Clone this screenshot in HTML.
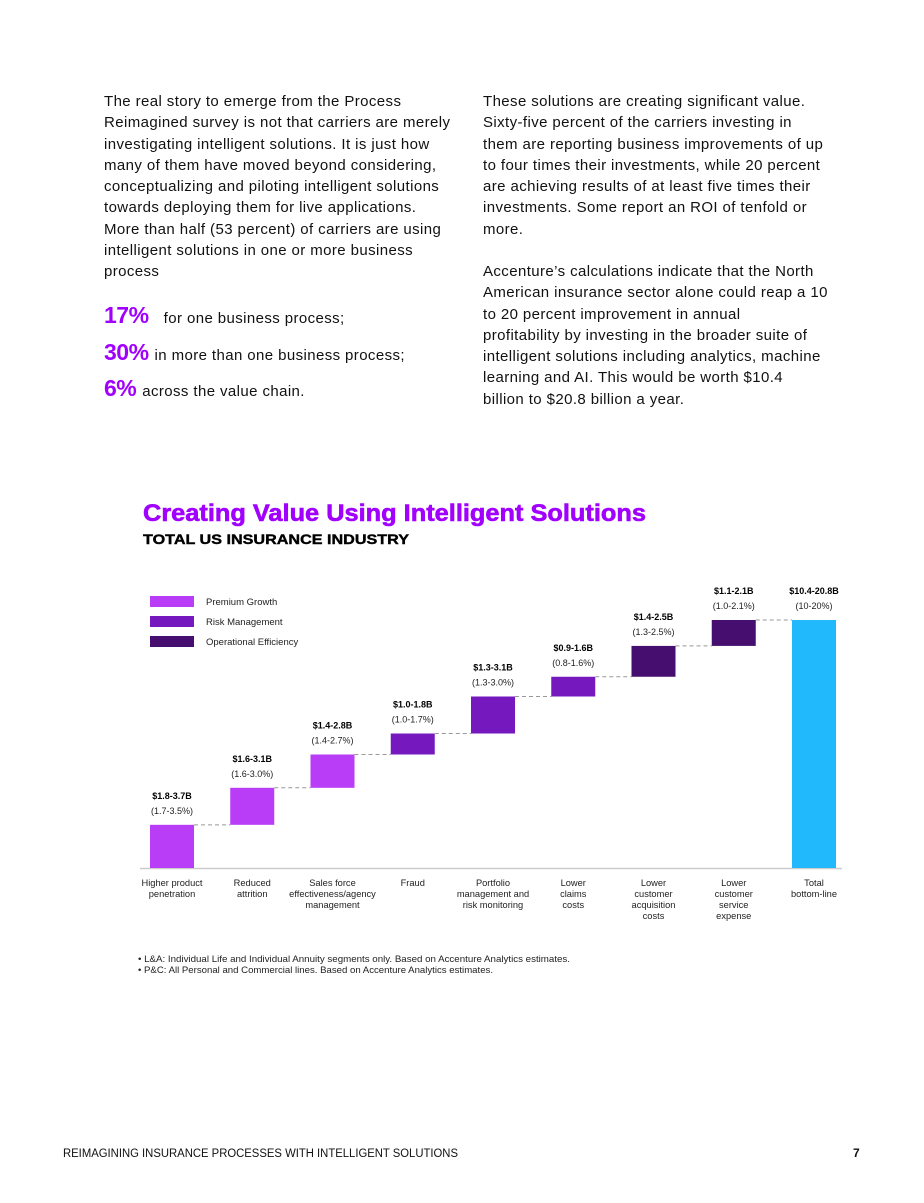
<!DOCTYPE html>
<html><head><meta charset="utf-8"><style>
body{margin:0;background:#fff;font-family:"Liberation Sans",sans-serif;color:#111;}
#page{position:relative;width:924px;height:1203px;overflow:hidden;}
.col{position:absolute;font-size:15px;letter-spacing:0.4px;line-height:21.3px;white-space:nowrap;}
.big{position:absolute;font-size:15px;letter-spacing:0.4px;white-space:nowrap;}
.big b{color:#a100ff;font-size:23px;font-weight:900;letter-spacing:-0.5px;margin-right:6px;}
</style></head><body><div id="page">
<div class="col" style="left:104px;top:91px">The real story to emerge from the Process<br>Reimagined survey is not that carriers are merely<br>investigating intelligent solutions. It is just how<br>many of them have moved beyond considering,<br>conceptualizing and piloting intelligent solutions<br>towards deploying them for live applications.<br>More than half (53 percent) of carriers are using<br>intelligent solutions in one or more business<br>process</div>
<div class="big" style="left:104px;top:302px"><b>17%</b> &nbsp;for one business process;</div>
<div class="big" style="left:104px;top:339px"><b>30%</b>in more than one business process;</div>
<div class="big" style="left:104px;top:375px"><b>6%</b>across the value chain.</div>
<div class="col" style="left:483px;top:91px">These solutions are creating significant value.<br>Sixty-five percent of the carriers investing in<br>them are reporting business improvements of up<br>to four times their investments, while 20 percent<br>are achieving results of at least five times their<br>investments. Some report an ROI of tenfold or<br>more.</div>
<div class="col" style="left:483px;top:261px">Accenture’s calculations indicate that the North<br>American insurance sector alone could reap a 10<br>to 20 percent improvement in annual<br>profitability by investing in the broader suite of<br>intelligent solutions including analytics, machine<br>learning and AI. This would be worth $10.4<br>billion to $20.8 billion a year.</div>

<svg id="chart" width="924" height="1203" style="position:absolute;left:0;top:0">
<text x="143" y="521" font-size="24" font-weight="900" fill="#a100ff" stroke="#a100ff" stroke-width="0.6" textLength="503" lengthAdjust="spacingAndGlyphs">Creating Value Using Intelligent Solutions</text>
<text x="143" y="544" font-size="14" font-weight="900" fill="#000" stroke="#000" stroke-width="0.4" textLength="266" lengthAdjust="spacingAndGlyphs">TOTAL US INSURANCE INDUSTRY</text>
<g id="legend"></g>
<line x1="140" y1="868.5" x2="842" y2="868.5" stroke="#ccc" stroke-width="1.5"/>
<g id="marks"></g>
<text x="138" y="962" font-size="9.4" fill="#222" textLength="432" lengthAdjust="spacingAndGlyphs">• L&amp;A: Individual Life and Individual Annuity segments only. Based on Accenture Analytics estimates.</text>
<text x="138" y="973" font-size="9.4" fill="#222" textLength="355" lengthAdjust="spacingAndGlyphs">• P&amp;C: All Personal and Commercial lines. Based on Accenture Analytics estimates.</text>
<text x="63" y="1157" font-size="11.5" fill="#111" textLength="395" lengthAdjust="spacingAndGlyphs">REIMAGINING INSURANCE PROCESSES WITH INTELLIGENT SOLUTIONS</text>
<text x="853" y="1157" font-size="12" font-weight="bold" fill="#111">7</text>
</svg>
<script>
const categories=[["Higher product","penetration"],["Reduced","attrition"],["Sales force","effectiveness/agency","management"],["Fraud"],["Portfolio","management and","risk monitoring"],["Lower","claims","costs"],["Lower","customer","acquisition","costs"],["Lower","customer","service","expense"],["Total","bottom-line"]];
const pctHigh=[3.5,3.0,2.7,1.7,3.0,1.6,2.5,2.1];
const groups=[0,0,0,1,1,1,2,2];
const dollarLabels=["$1.8-3.7B","$1.6-3.1B","$1.4-2.8B","$1.0-1.8B","$1.3-3.1B","$0.9-1.6B","$1.4-2.5B","$1.1-2.1B","$10.4-20.8B"];
const pctLabels=["(1.7-3.5%)","(1.6-3.0%)","(1.4-2.7%)","(1.0-1.7%)","(1.3-3.0%)","(0.8-1.6%)","(1.3-2.5%)","(1.0-2.1%)","(10-20%)"];
const legendNames=["Premium Growth","Risk Management","Operational Efficiency"];
const colors=["#b93cf6","#7519bf","#460e6e"];
const totalColor="#22b8fc";
const NS="http://www.w3.org/2000/svg";
const base=868,scale=248/20.1,x0=150,pitch=80.25,bw=44;
const y=v=>base-v*scale;
const xb=i=>x0+i*pitch;
function mk(tag,at,parent){const e=document.createElementNS(NS,tag);for(const k in at)e.setAttribute(k,at[k]);parent.appendChild(e);return e;}
const marks=document.getElementById('marks'),leg=document.getElementById('legend');
legendNames.forEach((n,i)=>{
 const r=mk('rect',{x:150,y:596+i*20,width:44,height:11,fill:colors[i]},leg);
 
 
 const t=mk('text',{x:206,y:605+i*20,'font-size':9.5,fill:'#222'},leg);t.textContent=n;
 
 
});
let cum=0;
const n=pctHigh.length;
for(let i=0;i<=n;i++){
 let top,bot,col;
 if(i<n){bot=cum;top=cum+pctHigh[i];col=colors[groups[i]];cum=top;}
 else{bot=0;top=cum;col=totalColor;}
 const r=mk('rect',{x:xb(i),y:y(top),width:bw,height:y(bot)-y(top),fill:col},marks);
 
 
 if(i<n){const l=mk('line',{x1:xb(i)+bw,x2:xb(i+1),y1:y(top),y2:y(top),stroke:'#999','stroke-dasharray':'4,3'},marks);
  
  }
 const cx=xb(i)+bw/2;
 const d=mk('text',{x:cx,y:y(top)-26,'font-size':9,'font-weight':'bold','text-anchor':'middle',fill:'#000'},marks);d.textContent=dollarLabels[i];
 
 
 const p=mk('text',{x:cx,y:y(top)-11,'font-size':9,'text-anchor':'middle',fill:'#222'},marks);p.textContent=pctLabels[i];
 
 
 categories[i].forEach((s,k)=>{const t=mk('text',{x:cx,y:886+k*11,'font-size':9.3,'text-anchor':'middle',fill:'#222'},marks);t.textContent=s;
  
  });
}
</script>
</div></body></html>
